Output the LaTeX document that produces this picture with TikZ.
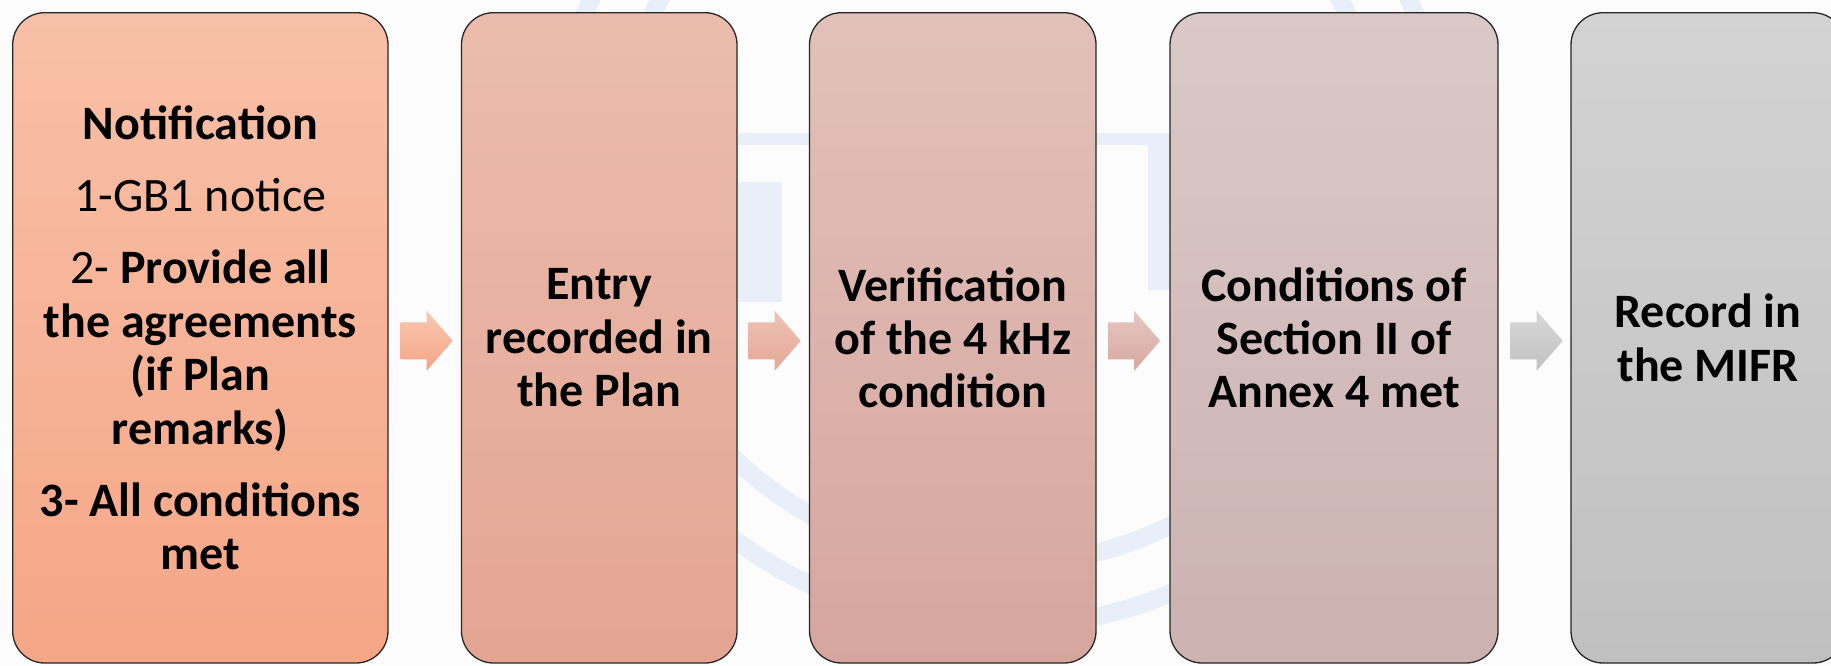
\documentclass[tikz,border=0pt]{standalone}
\usepackage{fontspec}
\setmainfont{Carlito}
\usetikzlibrary{calc}
\definecolor{bAtop}{RGB}{248,192,168}
\definecolor{bAbot}{RGB}{245,166,134}
\definecolor{bBtop}{RGB}{235,188,173}
\definecolor{bBbot}{RGB}{228,165,147}
\definecolor{bCtop}{RGB}{226,193,186}
\definecolor{bCbot}{RGB}{214,166,158}
\definecolor{bDtop}{RGB}{218,201,200}
\definecolor{bDbot}{RGB}{204,178,177}
\definecolor{bEtop}{RGB}{211,211,211}
\definecolor{bEbot}{RGB}{192,192,192}
\definecolor{wmark}{RGB}{232,239,249}
\tikzset{
  flowbox/.style={draw=black!85, line width=0.65pt, rounded corners=16pt,
    inner sep=0pt, align=center, minimum height=325.15pt,
    font=\fontsize{24}{26.7}\selectfont\bfseries},
  wmarkline/.style={draw=wmark, line width=9pt},
}
\newcommand{\flowarrow}[3]{%
  \path[top color=#2, bottom color=#3] ($(#1)+(0,-18.5)$) -- ++(26,0) -- ++(0,-11.5)
    -- ++(26,30) -- ++(-26,30) -- ++(0,-11.5) -- ++(-26,0) -- cycle;}
\begin{document}
\begin{tikzpicture}[x=0.5pt,y=-0.5pt]
\clip (0,0) rectangle (1831,665);
\fill[white!99!black] (0,0) rectangle (1831,665);
% faint watermark (mostly hidden behind the boxes)
\draw[wmarkline] (1000,180) circle[radius=385];
\draw[wmarkline] (1000,180) circle[radius=447];
\fill[wmark] (700,133) rectangle (1200,145);
\fill[wmark] (700,182) rectangle (782,302);
\fill[wmark] (1148,145) rectangle (1200,290);
\node[flowbox, minimum width=187.65pt, top color=bAtop, bottom color=bAbot] (b1) at (200.35,337.85)
  {Notification\\[9.5pt]
   {\mdseries 1-GB1 notice}\\[9.5pt]
   {\mdseries 2-} Provide all\\the agreements\\(if Plan\\remarks)\\[9.5pt]
   3- All conditions\\met};
\node[flowbox, minimum width=137.75pt, top color=bBtop, bottom color=bBbot] (b2) at (599.25,337.85)
  {Entry\\recorded in\\the Plan};
\node[flowbox, minimum width=143.25pt, top color=bCtop, bottom color=bCbot] (b3) at (952.75,337.85)
  {Verification\\of the 4 kHz\\condition};
\node[flowbox, minimum width=164pt, top color=bDtop, bottom color=bDbot] (b4) at (1334,337.85)
  {Conditions of\\Section II of\\Annex 4 met};
\node[flowbox, minimum width=137pt, top color=bEtop, bottom color=bEbot] (b5) at (1708,337.85)
  {Record in\\the MIFR};
\coordinate (a1) at ($(b1.east)+(12,3)$);
\coordinate (a2) at ($(b2.east)+(11,3)$);
\coordinate (a3) at ($(b3.east)+(11.5,3)$);
\coordinate (a4) at ($(b4.east)+(12,3)$);
\flowarrow{a1}{bAtop!90!white}{bAbot}
\flowarrow{a2}{bBtop!90!white}{bBbot!90!bBtop}
\flowarrow{a3}{bCtop!90!white}{bCbot!90!bCtop}
\flowarrow{a4}{bEtop!90!white}{bEbot!90!bEtop}
\end{tikzpicture}
\end{document}
